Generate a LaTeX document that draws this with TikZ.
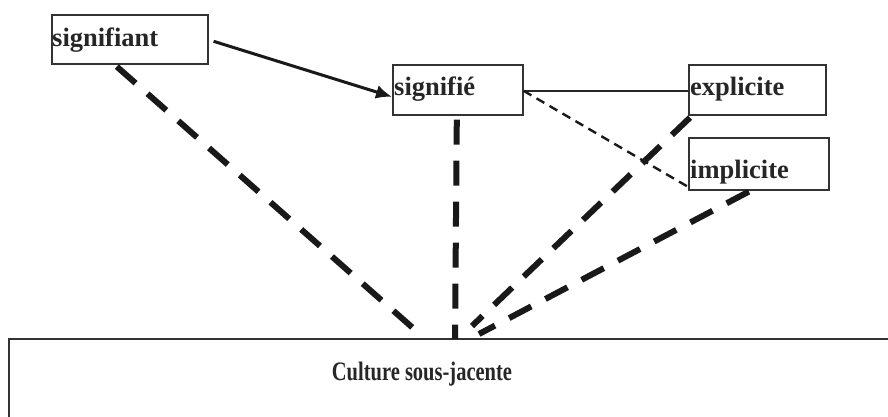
\documentclass[tikz,border=0pt]{standalone}
\usepackage{fontspec}
\setmainfont{Liberation Serif}
\usetikzlibrary{arrows.meta}
\begin{document}
\begin{tikzpicture}[x=1pt,y=-1pt,
  box/.style={draw=black!80,line width=1.6pt,inner sep=0pt,anchor=north west},
  lab/.style={anchor=base west,inner sep=0pt,font=\fontsize{26.5}{30}\selectfont\bfseries,text=black!85},
  thick dash/.style={line width=6pt,dash pattern=on 25pt off 16pt,black!90},
  thin dash/.style={line width=2.4pt,dash pattern=on 9pt off 6pt,black!90}]
\useasboundingbox (0,0) rectangle (888,416);
\fill[white] (0,0) rectangle (888,416);
% boxes
\node[box,minimum width=156pt,minimum height=49pt] (b1) at (51,14) {};
\node[box,minimum width=130pt,minimum height=50pt] (b2) at (392,64) {};
\node[box,minimum width=137pt,minimum height=50pt] (b3) at (688,64) {};
\node[box,minimum width=140pt,minimum height=52pt] (b4) at (688,137) {};
\draw[draw=black!80,line width=1.6pt] (9,430) -- (9,339) -- (900,339);
\coordinate (cul) at (455,339);
\node[anchor=base,inner sep=0pt,font=\fontsize{20.5}{24}\selectfont\bfseries,text=black!85] (t5) at (422,380) {\scalebox{1}[1.3]{Culture sous-jacente}};
% labels
\node[lab] (t1) at (52,46) {signifiant};
\node[lab] (t2) at (394,95) {signifié};
\node[lab] (t3) at (690,95) {explicite};
\node[lab] (t4) at (690,178) {implicite};
% connectors
\coordinate (e1) at (422,336);
\coordinate (e3) at (472,326);
\coordinate (e4) at (479,334);
\draw[line width=3pt,black!90,-{Latex[length=16pt,width=14pt]}] ([xshift=5pt,yshift=-2pt]b1.east) -- ([yshift=-7pt]b2.west);
\draw[line width=1.6pt,black!85] ([yshift=-1pt]b2.east) -- ([yshift=-1pt]b3.west);
\draw[thin dash] ([yshift=-1pt]b2.east) -- ([yshift=-23pt]b4.west);
\draw[thick dash] ([xshift=-13pt,yshift=-2pt]b1.south) -- (e1);
\draw[thick dash] ([xshift=-1pt,yshift=-4pt]b2.south) -- (cul);
\draw[thick dash] ([xshift=2pt,yshift=-2pt]b3.south west) -- (e3);
\draw[thick dash] ([xshift=-10pt,yshift=-1pt]b4.south) -- (e4);
\end{tikzpicture}
\end{document}
